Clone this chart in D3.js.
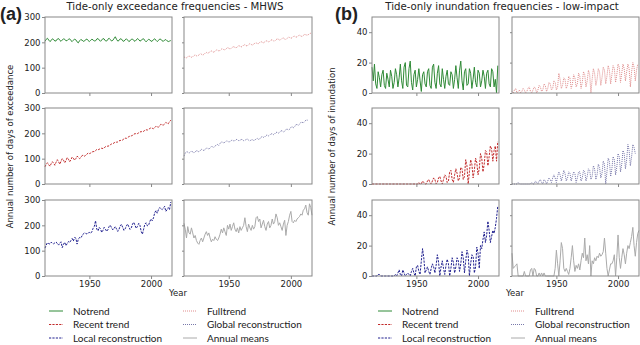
<!DOCTYPE html>
<html>
<head>
<meta charset="utf-8">
<script src="https://cdn.jsdelivr.net/npm/d3@7"></script>
<style>
body { margin: 0; background: #fff; }
svg text { font-family: "DejaVu Sans", sans-serif; fill: #222; }
</style>
</head>
<body>
<svg id="chart" width="640" height="345"></svg>
<script>
/*
 * Tide-only exceedance (a) and inundation (b) frequencies.
 * Each series holds one value per year, starting at firstYear.
 */

// DATA
var firstYear = 1914;
var xTicks = [1950, 2000];
var exYTicks = [0, 100, 200, 300];
var inYTicks = [0, 20, 40];

// (a) exceedance of MHWS, days per year
var exNoTrend = [
  204,212,216,209,203,207,214,211,205,206,
  213,215,208,204,209,214,212,206,207,212,
  214,207,203,208,213,210,202,198,206,211,
  209,204,205,211,213,207,203,208,212,210,
  205,206,213,215,209,204,209,215,213,206,
  205,212,216,211,205,208,215,222,212,205,
  207,214,213,206,204,210,214,209,203,206,
  212,213,207,204,209,215,211,205,207,213,
  214,207,202,207,212,210,204,205,211,214,
  208,203,207,213,212,206,204,209,211,206,
  203,205,207];
var exFullTrend = [
  142,140,139,143,146,144,141,143,148,150,
  147,146,150,155,153,150,152,157,160,157,
  159,163,166,163,161,165,170,169,166,168,
  173,175,171,170,175,179,177,174,176,181,
  183,180,178,183,187,185,182,184,189,191,
  187,186,191,195,192,189,192,197,198,195,
  195,200,203,200,198,202,206,205,202,204,
  209,210,206,205,210,214,212,209,211,216,
  217,213,211,216,220,219,216,218,223,224,
  220,222,226,228,225,223,227,231,230,228,
  230,234,236];
var exRecentTrend = [
  68,78,84,76,70,80,88,82,74,86,
  96,88,78,90,100,94,84,92,104,98,
  88,96,106,102,94,100,110,106,100,104,
  112,114,110,113,118,122,120,122,126,128,
  128,132,136,135,137,141,141,140,143,147,
  150,149,151,155,158,159,162,166,165,166,
  170,172,171,174,178,181,180,183,187,189,
  190,192,196,199,198,199,202,205,207,205,
  208,212,214,213,216,219,222,220,218,223,
  228,226,224,230,236,234,232,238,243,240,
  238,246,252];
var exGlobalRecon = [
  110,122,128,126,122,125,130,127,123,126,
  132,130,127,131,137,135,132,136,142,141,
  138,142,148,147,144,149,155,156,152,160,
  166,165,162,165,170,169,166,167,172,173,
  170,171,176,175,171,172,176,175,171,172,
  176,177,173,170,174,175,172,173,178,180,
  176,178,185,187,184,186,192,193,190,193,
  198,198,195,198,204,204,201,204,210,210,
  206,208,215,217,213,216,224,226,222,226,
  234,235,232,236,243,244,241,246,252,253,
  250];
var exLocalRecon = [
  110,122,132,128,126,133,130,127,131,134,
  128,122,130,135,112,125,133,120,128,136,
  132,140,148,138,152,150,126,145,152,150,
  158,166,170,168,166,170,172,168,175,188,
  196,218,185,178,192,186,172,180,192,185,
  176,183,196,200,190,182,188,195,186,176,
  184,198,204,192,180,186,198,205,194,184,
  190,205,212,200,188,196,208,200,176,165,
  185,205,210,198,200,215,225,218,230,250,
  258,248,262,270,266,262,268,275,255,262,
  270,262,292];
var exAnnualMeans = [
  208,185,150,195,170,165,190,170,150,160,
  140,130,125,140,150,135,150,165,175,160,
  170,150,135,145,140,155,145,140,150,165,
  185,170,190,175,160,200,185,205,180,195,
  210,185,175,190,170,195,180,190,200,230,
  195,175,205,190,180,200,185,195,230,235,
  215,225,190,205,220,195,180,205,215,190,
  200,225,205,215,245,230,200,210,195,180,
  205,220,160,200,215,240,255,215,210,220,
  215,225,230,235,245,240,260,265,280,250,
  240,285,270,240];

// (b) low-impact inundation, days per year
var inNoTrend = [
  17,8,19,6,3,14,10,4,12,15,
  5,3,13,9,4,15,11,3,7,16,
  12,4,10,19,8,3,17,20,5,4,
  16,21,7,2,12,15,4,9,16,8,
  1,12,14,6,4,14,16,5,3,17,
  19,7,3,13,18,6,4,16,9,3,
  11,15,6,5,14,12,3,9,18,10,
  3,15,21,8,2,14,16,5,6,16,
  13,3,9,17,7,4,15,13,4,8,
  15,11,3,13,15,6,4,16,14,4,
  9,0,18];
var inFullTrend = [
  1,0,2,3,0,1,2,0,1,3,
  2,0,1,3,4,1,0,2,4,3,
  0,2,5,4,1,2,6,5,1,3,
  7,6,2,3,8,7,2,4,13,9,
  3,5,10,9,3,5,11,10,3,6,
  12,10,4,6,13,11,3,7,14,12,
  4,8,15,12,0,9,16,13,5,9,
  16,14,5,10,17,15,6,11,18,15,
  6,12,18,16,7,12,19,17,7,13,
  19,16,8,14,19,16,4,14,20,17,
  8,15,19];
var inRecentTrend = [
  0,0,0,0,0,0,0,0,0,0,
  0,0,0,0,0,0,0,0,0,0,
  0,0,0,0,0,0,0,0,0,0,
  0,0,0,0,0,0,0,0,1,0,
  0,2,1,0,0,2,3,1,0,2,
  4,3,0,1,4,5,2,0,3,6,
  5,1,2,8,9,3,1,6,10,7,
  2,4,11,10,3,5,16,12,0,8,
  16,13,4,9,17,14,6,10,20,17,
  8,13,22,21,12,18,25,23,15,22,
  25,15,28];
var inGlobalRecon = [
  0,0,0,0,0,1,0,0,0,0,
  0,0,0,0,0,0,1,0,0,2,
  1,0,2,3,1,0,3,2,0,2,
  4,3,1,4,6,4,1,5,8,6,
  2,5,9,7,2,4,8,7,2,5,
  8,7,1,4,8,8,2,4,9,8,
  2,5,10,9,3,5,12,10,3,6,
  13,11,4,7,15,13,0,8,17,15,
  5,10,18,16,6,11,20,18,8,13,
  22,20,10,16,26,22,12,18,26,24,
  20];
var inLocalRecon = [
  0,0,0,0,0,1,1,0,0,0,
  0,0,0,0,0,0,0,0,0,1,
  0,2,4,1,0,4,2,0,1,2,
  1,0,3,5,2,0,6,7,3,1,
  10,18,12,2,4,6,3,1,5,8,
  6,2,7,14,9,0,6,10,5,1,
  7,11,8,0,5,12,9,2,6,12,
  10,3,8,16,12,2,10,17,14,0,
  8,14,13,2,6,19,15,5,20,18,
  24,29,22,27,36,30,22,26,30,28,
  32,38,46];
var inAnnualMeans = [
  15,5,6,7,8,0,0,0,0,0,
  3,0,0,0,0,4,5,0,5,4,
  0,0,2,0,2,0,2,0,0,0,
  0,0,0,0,0,5,17,8,0,10,
  22,18,5,3,5,3,1,5,12,20,
  10,3,7,5,8,4,10,15,12,25,
  10,14,8,20,0,10,8,12,10,13,
  12,15,13,14,16,25,15,5,0,4,
  8,8,10,14,0,12,27,12,5,12,
  18,14,8,15,20,18,22,26,32,20,
  13,22,28,30];

// STYLES (tight marks the labels whose space is squeezed in the original)
var styles = {
  noTrend:     { label: "No trend",              color: "#2f8a36", dash: null,      tight: true },
  fullTrend:   { label: "Full trend",            color: "#e08c8c", dash: "1,1",     tight: true },
  recentTrend: { label: "Recent trend",          color: "#c22b2b", dash: "2.2,1.2" },
  globalRecon: { label: "Global reconstruction", color: "#7878aa", dash: "1,1" },
  localRecon:  { label: "Local reconstruction",  color: "#20208f", dash: "2.2,1.2" },
  annualMeans: { label: "Annual means",          color: "#aaaaaa", dash: null }
};

// LAYOUT (pixel boxes of the six axes in each panel)
var rows = [[17, 93], [108, 184], [200, 276]];
var panels = [
  { cols: [[45, 172], [184, 312]], yMax: 300, yTicks: exYTicks,
    title: "Tide-only exceedance frequencies - MHWS", titleX: 175, tag: "(a)", tagX: 0,
    ylabel: "Annual number of days of exceedance", ylabelX: 13, yearX: 178,
    series: [["noTrend", exNoTrend], ["fullTrend", exFullTrend],
             ["recentTrend", exRecentTrend], ["globalRecon", exGlobalRecon],
             ["localRecon", exLocalRecon], ["annualMeans", exAnnualMeans]],
    legendX: [49, 183] },
  { cols: [[372, 499], [512, 639]], yMax: 50, yTicks: inYTicks,
    title: "Tide-only inundation frequencies - low-impact", titleX: 502, tag: "(b)", tagX: 335,
    ylabel: "Annual number of days of inundation", ylabelX: 335, yearX: 515,
    series: [["noTrend", inNoTrend], ["fullTrend", inFullTrend],
             ["recentTrend", inRecentTrend], ["globalRecon", inGlobalRecon],
             ["localRecon", inLocalRecon], ["annualMeans", inAnnualMeans]],
    legendX: [378, 511] }
];

var svg = d3.select("#chart");

function styleAxis(sel) {
  sel.select(".domain").remove();
  sel.selectAll(".tick line").attr("stroke", "#888");
  sel.selectAll(".tick text")
    .style("font-family", "DejaVu Sans")
    .style("font-size", "8.5px")
    .attr("fill", "#222");
}

function drawSubplot(box, panel, key, values, showY, showX) {
  var x = d3.scaleLinear().domain([1914, 2017]).range([box.x0, box.x1]);
  var y = d3.scaleLinear().domain([0, panel.yMax]).range([box.y1, box.y0]);
  var g = svg.append("g");

  g.append("g")
    .attr("transform", "translate(0," + box.y1 + ")")
    .call(d3.axisBottom(x).tickValues(xTicks).tickSize(3).tickPadding(1.5)
      .tickFormat(showX ? d3.format("d") : ""))
    .call(styleAxis);
  g.append("g")
    .attr("transform", "translate(" + box.x0 + ",0)")
    .call(d3.axisLeft(y).tickValues(panel.yTicks).tickSize(showY ? 3 : 2).tickPadding(1.5)
      .tickFormat(showY ? d3.format("d") : ""))
    .call(styleAxis);

  var st = styles[key];
  var line = d3.line()
    .x(function(d, i) { return x(firstYear + i); })
    .y(function(d) { return y(d); });
  g.append("path")
    .datum(values)
    .attr("fill", "none")
    .attr("stroke", st.color)
    .attr("stroke-width", 1)
    .attr("stroke-dasharray", st.dash)
    .attr("d", line);

  g.append("rect")
    .attr("x", box.x0).attr("y", box.y0)
    .attr("width", box.x1 - box.x0).attr("height", box.y1 - box.y0)
    .attr("fill", "none").attr("stroke", "#888").attr("stroke-width", 1);
}

panels.forEach(function(p) {
  for (var k = 0; k < p.series.length; k++) {
    var r = Math.floor(k / 2), c = k % 2;
    var box = { x0: p.cols[c][0], x1: p.cols[c][1], y0: rows[r][0], y1: rows[r][1] };
    drawSubplot(box, p, p.series[k][0], p.series[k][1], c == 0, r == 2);
  }

  svg.append("text").attr("x", p.titleX).attr("y", 10)
    .attr("text-anchor", "middle").style("font-size", "10.2px").text(p.title);
  svg.append("text").attr("x", p.tagX).attr("y", 20)
    .style("font-family", "Liberation Sans").style("font-weight", "bold")
    .style("font-size", "18px").attr("fill", "#000").text(p.tag);
  svg.append("text")
    .attr("transform", "translate(" + p.ylabelX + ",146.5) rotate(-90)")
    .attr("text-anchor", "middle").style("font-size", "8.5px").text(p.ylabel);
  svg.append("text").attr("x", p.yearX).attr("y", 296)
    .attr("text-anchor", "middle").style("font-size", "8.5px").text("Year");

  // legend: two columns of three
  for (var k = 0; k < p.series.length; k++) {
    var st = styles[p.series[k][0]];
    var col = k % 2, row = Math.floor(k / 2);
    var lx = p.legendX[col], ly = 311 + row * 13.5;
    svg.append("line")
      .attr("x1", lx).attr("x2", lx + 14).attr("y1", ly).attr("y2", ly)
      .attr("stroke", st.color).attr("stroke-width", 1)
      .attr("stroke-dasharray", st.dash);
    svg.append("text").attr("x", lx + 24).attr("y", ly + 3.6)
      .style("font-family", "Lato").style("font-size", "10px")
      .style("word-spacing", st.tight ? "-2.5px" : "0px").text(st.label);
  }
});
</script>
</body>
</html>
